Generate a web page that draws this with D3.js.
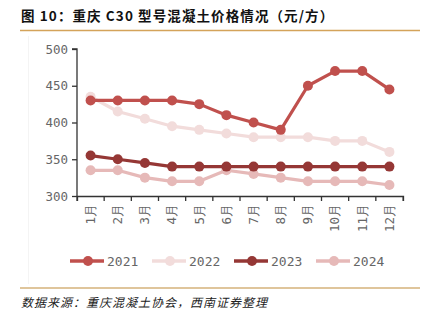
<!DOCTYPE html>
<html><head><meta charset="utf-8">
<script src="https://cdn.jsdelivr.net/npm/d3@7"></script>
<style>
body{margin:0;background:#fff;}
svg{display:block;}
</style></head>
<body>
<svg id="c" width="431" height="322"></svg>
<script>
const months = ["1月","2月","3月","4月","5月","6月","7月","8月","9月","10月","11月","12月"];
const yTicks = [300,350,400,450,500];
const seriesNames = ["2021","2022","2023","2024"];
const s2021 = [430,430,430,430,425,410,400,390,450,470,470,445];
const s2022 = [435,415,405,395,390,385,380,380,380,375,375,360];
const s2023 = [355,350,345,340,340,340,340,340,340,340,340,340];
const s2024 = [335,335,325,320,320,335,330,325,320,320,320,315];
const colors = ["#c0504d","#f2dcdb","#953735","#e6b9b8"];
const title = "图 10：重庆 C30 型号混凝土价格情况（元/方）";
const source = "数据来源：重庆混凝土协会，西南证券整理";

const series = [s2021,s2022,s2023,s2024];
const svg = d3.select("#c");
const mono = "'DejaVu Sans Mono', monospace";

// header
svg.append("text").attr("x",21).attr("y",21)
  .attr("font-family","'Noto Sans CJK SC', sans-serif").attr("font-weight","bold")
  .attr("font-size",13.5).attr("letter-spacing",1.1).attr("fill","#111").text(title);
svg.append("line").attr("x1",20).attr("x2",420).attr("y1",30.5).attr("y2",30.5)
  .attr("stroke","#d4a35a").attr("stroke-width",1.5);
svg.append("line").attr("x1",28.5).attr("x2",28.5).attr("y1",36).attr("y2",284)
  .attr("stroke","#f4f4f4").attr("stroke-width",1);
svg.append("line").attr("x1",20).attr("x2",420).attr("y1",288).attr("y2",288)
  .attr("stroke","#d4b27a").attr("stroke-width",1.5);
svg.append("text").attr("x",21).attr("y",307)
  .attr("font-family","'Noto Sans CJK SC', sans-serif").attr("font-style","italic")
  .attr("font-size",12).attr("letter-spacing",1).attr("fill","#222").text(source);

const x = d3.scaleBand().domain(months).range([77,403]);
const y = d3.scaleLinear().domain([300,500]).range([196,49]);

const gy = svg.append("g").attr("transform","translate(77,0)")
  .call(d3.axisLeft(y).tickValues(yTicks).tickSize(5).tickPadding(4));
const gx = svg.append("g").attr("transform","translate(0,196)")
  .call(d3.axisBottom(x).tickSize(5).tickPadding(3));
// band-edge ticks like the reference
gx.selectAll(".tick line").attr("x1", -x.bandwidth()/2).attr("x2",-x.bandwidth()/2);
gx.append("line").attr("x1",403).attr("x2",403).attr("y1",0).attr("y2",5).attr("stroke","#333");
gx.selectAll(".tick text")
  .attr("transform","rotate(-90)")
  .attr("text-anchor","end").attr("dy","0.35em").attr("x",-8).attr("y",0);
[gx,gy].forEach(g=>{
  g.selectAll("path").attr("stroke","#333").attr("stroke-width",1.3);
  g.selectAll(".tick line").attr("stroke","#333").attr("stroke-width",1.3);
  g.selectAll("text").attr("font-family",mono).attr("font-size",12.5).attr("fill","#666");
});
gy.select(".domain").attr("d","M-5,49H0V196");

const line = d3.line().x((d,i)=>x(months[i])+x.bandwidth()/2).y(d=>y(d));
[1,3,2,0].forEach(k=>{
  const g = svg.append("g");
  g.append("path").attr("d",line(series[k])).attr("fill","none")
    .attr("stroke",colors[k]).attr("stroke-width",3.2).attr("stroke-linejoin","round");
  g.selectAll("circle").data(series[k]).join("circle")
    .attr("cx",(d,i)=>x(months[i])+x.bandwidth()/2).attr("cy",d=>y(d)).attr("r",5)
    .attr("fill",colors[k]);
});

// legend
const lx = [70,152,234,316];
seriesNames.forEach((n,k)=>{
  const g = svg.append("g").attr("transform",`translate(${lx[k]},261)`);
  g.append("line").attr("x1",0).attr("x2",34).attr("stroke",colors[k]).attr("stroke-width",3.5);
  g.append("circle").attr("cx",18).attr("r",5).attr("fill",colors[k]);
  g.append("text").attr("x",37).attr("y",0).attr("dy","0.35em")
    .attr("font-family",mono).attr("font-size",13).attr("fill","#666").text(n);
});
</script>
</body></html>
